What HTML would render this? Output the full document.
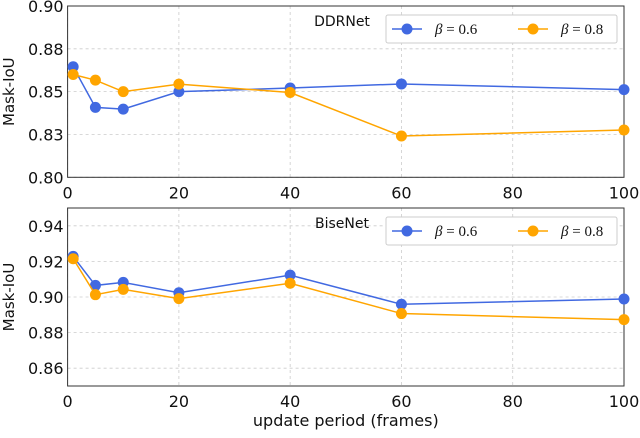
<!DOCTYPE html>
<html><head><meta charset="utf-8"><style>
body{margin:0;background:#fff}
svg{font-family:"DejaVu Sans","Liberation Sans",sans-serif}
</style></head><body>
<svg id="c" width="640" height="433" viewBox="0 0 640 433"></svg>
<script>
const xVals=[1,5,10,20,40,60,100];
const xTicks=[0,20,40,60,80,100];
const topBlue=[0.8645,0.8408,0.8398,0.8500,0.8521,0.8545,0.8512];
const topOrange=[0.8600,0.8567,0.8500,0.8544,0.8495,0.8241,0.8276];
const topTicks=[0.80,0.825,0.85,0.875,0.90];
const topTickLabels=["0.80","0.83","0.85","0.88","0.90"];
const botBlue=[0.9228,0.9065,0.9082,0.9024,0.9123,0.8959,0.8989];
const botOrange=[0.9215,0.9013,0.9043,0.8991,0.9077,0.8907,0.8873];
const botTicks=[0.86,0.88,0.90,0.92,0.94];
const botTickLabels=["0.86","0.88","0.90","0.92","0.94"];
const seriesNames=["0.6","0.8"];
const NS="http://www.w3.org/2000/svg";
const svg=document.getElementById('c');
function mk(t,a,p){const e=document.createElementNS(NS,t);for(const k in a)e.setAttribute(k,a[k]);(p||svg).appendChild(e);return e;}
const X0=67.6,X1=624;
function sx(v){return X0+(v-0)/(100-0)*(X1-X0);}
function panel(name,top,bot,ymin,ymax,ticks,labels,blue,orange,title){
  const sy=v=>bot-(v-ymin)/(ymax-ymin)*(bot-top);
  const g=mk('g',{});
  
  
  xTicks.forEach(t=>{
    const l=mk('line',{x1:sx(t),x2:sx(t),y1:top,y2:bot,stroke:'#ccc','stroke-dasharray':'3,3','stroke-width':0.8},g);
    
    
    const tx=mk('text',{x:sx(t),y:bot+21,'text-anchor':'middle','font-size':16,fill:'#111'},g);
    tx.textContent=t;
    
    
  });
  ticks.forEach((t,i)=>{
    const l=mk('line',{x1:X0,x2:X1,y1:sy(t),y2:sy(t),stroke:'#ccc','stroke-dasharray':'3,3','stroke-width':0.8},g);
    
    
    const tx=mk('text',{x:X0-4,y:sy(t)+6,'text-anchor':'end','font-size':16,fill:'#111'},g);
    tx.textContent=labels[i];
    
    
  });
  const fr=mk('rect',{x:X0,y:top,width:X1-X0,height:bot-top,fill:'none',stroke:'#333','stroke-width':1},g);
  
  
  [[blue,'#4169e1','blue'],[orange,'#ffa500','orange']].forEach(([d,c,n])=>{
    const pl=mk('polyline',{points:d.map((v,i)=>sx(xVals[i])+','+sy(v)).join(' '),fill:'none',stroke:c,'stroke-width':1.5},g);
    
    
    d.forEach((v,i)=>{
      const p=mk('circle',{cx:sx(xVals[i]),cy:sy(v),r:5.5,fill:c},g);
      
      
    });
  });
  const yl=mk('text',{x:0,y:0,'text-anchor':'middle','font-size':15,fill:'#111',transform:`translate(14,${(top+bot)/2}) rotate(-90)`},g);
  yl.textContent='Mask-IoU';
  
  
  const ti=mk('text',{x:342,y:top+20,'text-anchor':'middle','font-size':14,fill:'#111'},g);
  ti.textContent=title;
  
  
  const lg=mk('g',{},g);
  
  
  mk('rect',{x:386,y:top+9,width:231,height:28,fill:'#fff',stroke:'#ccc',rx:2},lg);
  [['#4169e1',392],['#ffa500',518]].forEach(([c,x],i)=>{
    mk('line',{x1:x,x2:x+30,y1:top+23,y2:top+23,stroke:c,'stroke-width':1.5},lg);
    mk('circle',{cx:x+15,cy:top+23,r:5.5,fill:c},lg);
    const t=mk('text',{x:x+43,y:top+28,'font-size':15,'font-family':'Liberation Serif, serif',fill:'#111'},lg);
    t.innerHTML='<tspan font-style="italic">β</tspan> = '+seriesNames[i];
    
    
  });
}
panel('ddrnet',6,177.3,0.80,0.90,topTicks,topTickLabels,topBlue,topOrange,'DDRNet');
panel('bisenet',208,386,0.85,0.95,botTicks,botTickLabels,botBlue,botOrange,'BiseNet');
const xl=mk('text',{x:(X0+X1)/2,y:426,'text-anchor':'middle','font-size':16,fill:'#111'});
xl.textContent='update period (frames)';


</script>
</body></html>
